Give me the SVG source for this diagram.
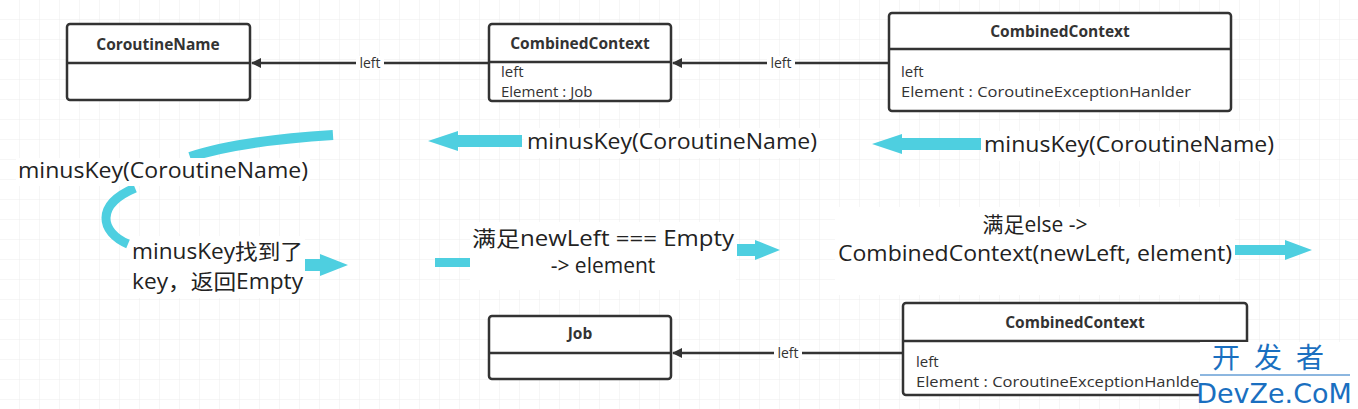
<svg xmlns="http://www.w3.org/2000/svg" width="1358" height="409" viewBox="0 0 1358 409">
<defs>
<pattern id="g" width="20" height="20" patternUnits="userSpaceOnUse"><path d="M20 0V20H0" fill="none" stroke="#ececec" stroke-width="1"/></pattern>
<marker id="ah" markerWidth="10" markerHeight="10" refX="9" refY="5" orient="auto" markerUnits="userSpaceOnUse"><path d="M0,0 L10,5 L0,10 Z" fill="#333"/></marker>
<style>
.box{fill:#fff;stroke:#333;stroke-width:2.5}
.ln{stroke:#333;stroke-width:2.5}
.t{font-family:"Open Sans","Noto Sans CJK SC",sans-serif;font-size:15px;fill:#333}
.h{font-family:"Open Sans","Noto Sans CJK SC",sans-serif;font-size:15.5px;font-weight:bold;fill:#333;text-anchor:middle}
.c{stroke:#333;stroke-width:2.5;fill:none}
.lb{font-family:"Open Sans",sans-serif;font-size:14px;fill:#333;text-anchor:middle}
.big{font-family:"Open Sans","Noto Sans CJK SC",sans-serif;font-size:21px;fill:#222}
.cy{fill:#4ecfe0}
.cs{stroke:#4ecfe0;fill:none}
</style>
</defs>
<rect width="1358" height="409" fill="#fff"/>
<rect width="1358" height="409" fill="url(#g)"/>
<g id="connectors">
<line class="c" x1="489" y1="63" x2="252" y2="63" marker-end="url(#ah)"/>
<rect x="356" y="56" width="28" height="14" fill="#fff"/><text class="lb" x="370" y="68">left</text>
<line class="c" x1="889" y1="63" x2="673" y2="63" marker-end="url(#ah)"/>
<rect x="767" y="56" width="28" height="14" fill="#fff"/><text class="lb" x="781" y="68">left</text>
<line class="c" x1="903" y1="353" x2="673" y2="353" marker-end="url(#ah)"/>
<rect x="774" y="346" width="28" height="14" fill="#fff"/><text class="lb" x="788" y="358">left</text>
</g>
<g id="n1"><rect class="box" x="67" y="24" width="183" height="76" rx="3"/><line class="ln" x1="67" y1="63" x2="250" y2="63"/><text class="h" x="158" y="50">CoroutineName</text></g>
<g id="n2"><rect class="box" x="489" y="24" width="182" height="77" rx="3"/><line class="ln" x1="489" y1="62" x2="671" y2="62"/><text class="h" x="580" y="49">CombinedContext</text><text class="t" x="501" y="77">left</text><text class="t" x="501" y="97">Element : Job</text></g>
<g id="n3"><rect class="box" x="889" y="13" width="342" height="98" rx="3"/><line class="ln" x1="889" y1="49" x2="1231" y2="49"/><text class="h" x="1060" y="37">CombinedContext</text><text class="t" x="901" y="77">left</text><text class="t" x="901" y="97" textLength="290" lengthAdjust="spacingAndGlyphs">Element : CoroutineExceptionHanlder</text></g>
<g id="n4"><rect class="box" x="489" y="316" width="182" height="63" rx="3"/><line class="ln" x1="489" y1="353" x2="671" y2="353"/><text class="h" x="580" y="339">Job</text></g>
<g id="n5"><rect class="box" x="903" y="303" width="344" height="92" rx="3"/><line class="ln" x1="903" y1="341" x2="1247" y2="341"/><text class="h" x="1075" y="328">CombinedContext</text><text class="t" x="916" y="367">left</text><text class="t" x="916" y="387" textLength="290" lengthAdjust="spacingAndGlyphs">Element : CoroutineExceptionHanlder</text></g>
<g id="flow">
<path class="cy" d="M522,135 L458,135 L458,131 L428,141 L458,151 L458,147 L522,147 Z"/>
<path class="cy" d="M982,138 L902,138 L902,134 L872,144 L902,154 L902,150 L982,150 Z"/>
<path class="cs" d="M333,135 C270,139 220,147 190,157" stroke-width="10"/>
<path class="cs" d="M135,188 C95,205 100,232 128,244" stroke-width="9"/>
<path class="cy" d="M305,259 L320,259 L320,254 L348,265 L320,276 L320,271 L305,271 Z"/>
<rect class="cy" x="435" y="258" width="35" height="9"/>
<path class="cy" d="M737,244 L755,244 L755,240 L780,250 L755,260 L755,256 L737,256 Z"/>
<path class="cy" d="M1234,245 L1285,245 L1285,240 L1312,250 L1285,260 L1285,255 L1234,255 Z"/>
</g>
<g id="labels">
<rect x="524" y="128" width="296" height="30" fill="#fff"/><text class="big" x="527" y="149" textLength="290" lengthAdjust="spacingAndGlyphs">minusKey(CoroutineName)</text>
<rect x="981" y="131" width="296" height="30" fill="#fff"/><text class="big" x="984" y="152" textLength="290" lengthAdjust="spacingAndGlyphs">minusKey(CoroutineName)</text>
<rect x="16" y="158" width="294" height="28" fill="#fff"/><text class="big" x="18" y="178" textLength="290" lengthAdjust="spacingAndGlyphs">minusKey(CoroutineName)</text>
<rect x="130" y="236" width="175" height="62" fill="#fff"/><text class="big" x="132" y="259" textLength="171" lengthAdjust="spacingAndGlyphs">minusKey找到了</text><text class="big" x="132" y="289" textLength="171" lengthAdjust="spacingAndGlyphs">key，返回Empty</text>
<rect x="470" y="222" width="266" height="68" fill="#fff"/><text class="big" x="603" y="246" text-anchor="middle" textLength="262" lengthAdjust="spacingAndGlyphs">满足newLeft === Empty</text><text class="big" x="603" y="273" text-anchor="middle">-&gt; element</text>
<rect x="835" y="207" width="400" height="88" fill="#fff"/><text class="big" x="1035" y="232" text-anchor="middle">满足else -&gt;</text><text class="big" x="1035" y="261" text-anchor="middle" textLength="394" lengthAdjust="spacingAndGlyphs">CombinedContext(newLeft, element)</text>
</g>
<g id="watermark">
<rect x="1200" y="342" width="158" height="67" fill="#fff"/>
<text x="1275" y="368" font-family="'Noto Sans CJK SC',sans-serif" font-size="28" fill="#1a6fc0" text-anchor="middle" letter-spacing="14">开发者</text>
<line x1="1200" y1="375" x2="1350" y2="375" stroke="#1a6fc0" stroke-width="1"/>
<text x="1274" y="403" font-family="'DejaVu Sans',sans-serif" font-size="27" fill="#1a6fc0" text-anchor="middle">DevZe.CoM</text>
</g>
</svg>
